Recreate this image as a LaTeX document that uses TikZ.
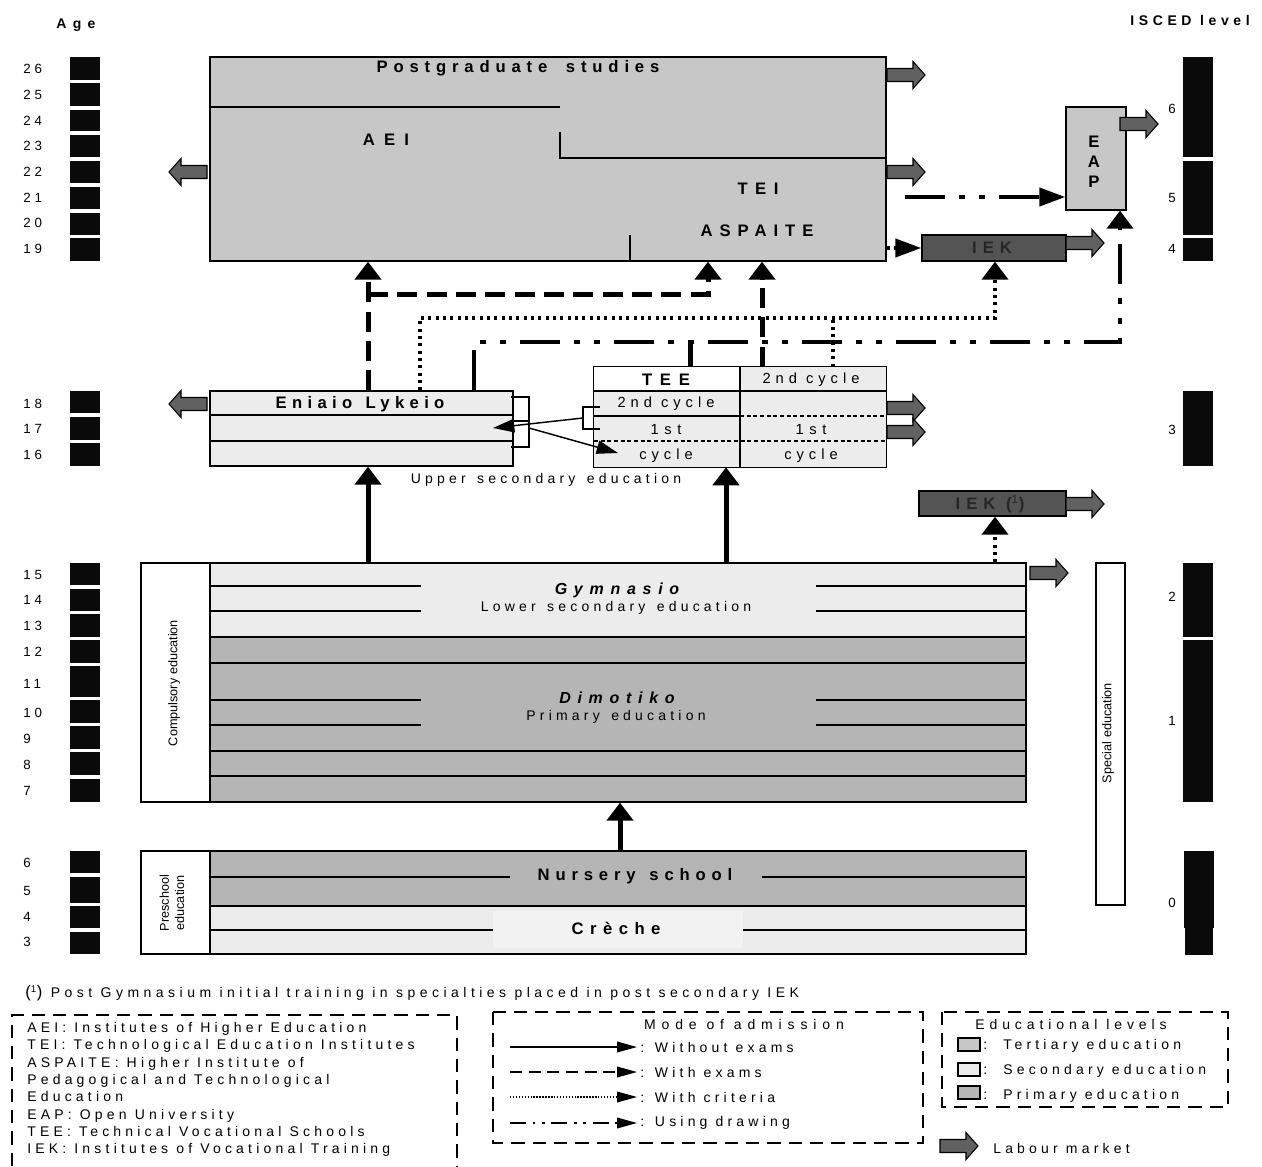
\documentclass[tikz,border=0pt]{standalone}
\usepackage{fontspec}
\setmainfont{Liberation Sans}
\usetikzlibrary{arrows.meta,fit}
\newcommand\lsp[1]{\addfontfeature{LetterSpace=#1}}
\newcommand\wsp{\ \hspace{2.5pt}}
\definecolor{terc}{gray}{0.78}
\definecolor{secc}{gray}{0.925}
\definecolor{pric}{gray}{0.71}
\definecolor{iekc}{gray}{0.33}
\definecolor{labc}{gray}{0.38}
\definecolor{barc}{gray}{0.04}
\begin{document}
\begin{tikzpicture}[x=0.75pt,y=-0.75pt,
 box/.style={draw, line width=1pt, inner sep=0pt},
 thinl/.style={line width=0.9pt},
 bigl/.style={inner sep=0pt, font=\fontsize{12.5}{15}\selectfont\bfseries\lsp{#1}},
 bigl/.default=30,
 midl/.style={inner sep=0pt, font=\fontsize{11}{13}\selectfont\lsp{#1}},
 midl/.default=34,
 smll/.style={inner sep=0pt, font=\fontsize{10.5}{13}\selectfont\lsp{#1}},
 smll/.default=30,
 numl/.style={inner sep=0pt, font=\fontsize{10}{12}\selectfont\lsp{#1}},
 numl/.default=30,
 rotl/.style={inner sep=0pt, font=\fontsize{9.5}{11.5}\selectfont, rotate=90, align=center},
 vhead/.style={-{Triangle[length=13.5pt,width=19.5pt]}},
 hhead/.style={-{Triangle[length=19.5pt,width=13.5pt]}},
 solidc/.style={line width=3.75pt},
 examsc/.style={line width=3.75pt, dash pattern=on 15pt off 7pt},
 critc/.style={line width=3pt, dash pattern=on 2.2pt off 3.3pt},
 drawc/.style={line width=3pt, dash pattern=on 30pt off 10.5pt on 4.5pt off 10.5pt on 4.5pt off 10.5pt},
 thinarr/.style={line width=1.1pt, -{Triangle[length=16pt,width=10pt]}},
 legarr/.style={line width=1.1pt, -{Triangle[length=15pt,width=8pt]}},
 legbox/.style={line width=1.5pt, dash pattern=on 10pt off 6pt},
 labour/.pic={\draw[fill=labc, line width=0.8pt] (0,-6.5) -- (26,-6.5) -- (26,-13.5) -- (38,0) -- (26,13.5) -- (26,6.5) -- (0,6.5) -- cycle;},
]
\useasboundingbox (0,0) rectangle (1262,1166);

% ---------- headers ----------
\node[inner sep=0pt, font=\fontsize{10.5}{12}\selectfont\bfseries\lsp{45}] (agehdr) at (76,25) {Age};
\node[inner sep=0pt, font=\fontsize{10.5}{12}\selectfont\bfseries\lsp{33}] (iscedhdr) at (1190,20) {ISCED level};

% ---------- age scale ----------
\foreach \n/\t/\b/\l in {26/57/80/69, 25/83/106/95, 24/110/131/121, 23/135/157/146,
  22/161/183/172, 21/187/209/198, 20/213/235/223, 19/238/261/249,
  18/391/413/404, 17/417/440/429, 16/443/466/455,
  15/563/585/575, 14/589/611/600, 13/614/637/626, 12/640/663/652, 11/666/697/684,
  10/700/723/713, 9/726/749/739, 8/752/775/765, 7/779/802/791,
  6/851/873/863, 5/877/903/891, 4/906/928/917, 3/932/954/942}
{\fill[barc] (70,\t) rectangle (100,\b);
 \node[numl, anchor=west] (age\n) at (23,\l) {\n};}

% ---------- ISCED scale ----------
\fill[barc] (1183,57) rectangle (1213,157);
\fill[barc] (1183,161) rectangle (1213,235);
\fill[barc] (1183,238) rectangle (1213,261);
\fill[barc] (1183,391) rectangle (1213,466);
\fill[barc] (1183,563) rectangle (1213,637);
\fill[barc] (1183,640) rectangle (1213,802);
\fill[barc] (1184,851) rectangle (1214,928);
\fill[barc] (1185,928) rectangle (1213,955);
\foreach \n/\l in {6/109,5/198,4/249,3/430,2/597,1/721,0/903}
 \node[numl=0] (isc\n) at (1172,\l) {\n};

% ---------- tertiary ----------
\node[box, fill=terc, fit={(210,57)(886,261)}] (tert) {};
\draw[thinl] (210,107) -- (560,107);
\draw[thinl] (560,132) -- (560,158) -- (886,158);
\draw[thinl] (630,235) -- (630,261);
\node[bigl=35] (pgt) at (518,68) {Postgraduate\hspace{14pt}studies};
\node[bigl=55] (aeit) at (386,140) {AEI};
\node[bigl=45] (teit) at (758,189) {TEI};
\node[bigl=42] (aspt) at (757,231) {ASPAITE};

\node[box, fill=terc, fit={(1066,107)(1126,210)}] (eap) {};
\node[inner sep=0pt, align=center, font=\fontsize{12.5}{15}\selectfont\bfseries] (eapt) at (1094,162) {E\\A\\P};

\node[box, fill=iekc, fit={(922,235)(1066,261)}] (iek) {};
\node[bigl=36, text=black!85] (iekt) at (992,248) {IEK};

% ---------- upper secondary ----------
\node[box, fill=secc, fit={(210,391)(513,466)}] (lyk) {};
\draw[thinl] (210,415) -- (513,415);
\draw[thinl] (210,441) -- (513,441);
\node[bigl=32] (lykt) at (360,404) {Eniaio\wsp Lykeio};
\draw[line width=0.8pt] (511,397) -| (529,447) -- (511,447);
\draw[line width=0.8pt] (513,421) -- (529,421);

\node[inner sep=0pt, fill=secc, fit={(594,367)(886,467)}] (tee) {};
\fill[white] (594,367) rectangle (740,391);
\draw[thinl] (594,391) -- (886,391);
\draw[thinl] (740,367) -- (740,467);
\draw[thinl] (594,416) -- (740,416);
\draw[line width=0.8pt, dash pattern=on 3pt off 2pt] (740,416) -- (886,416);
\draw[line width=0.8pt, dash pattern=on 3pt off 2pt] (594,441) -- (886,441);
\draw[line width=1pt] (tee.north west) rectangle (tee.south east);
\node[bigl=46] (teet) at (666,380) {TEE};
\node[midl] (c2r) at (811,380) {2nd cycle};
\node[midl] (c2l) at (666,404) {2nd cycle};
\node[midl=38] (s1l) at (666,430) {1st};
\node[midl=38] (s1r) at (811,430) {1st};
\node[midl] (cyl) at (666,456) {cycle};
\node[midl] (cyr) at (811,456) {cycle};
\draw[line width=0.8pt] (600,407) -- (583,407) -- (583,429) -- (600,429);
\node[smll] (uset) at (546,480) {Upper\wsp secondary\wsp education};

\node[box, fill=iekc, fit={(919,491)(1066,516)}] (iek1) {};
\node[bigl=36, text=black!85] (iek1t) at (990,504) {IEK (\textsuperscript{\mdseries 1})};

% ---------- compulsory ----------
\node[box, fill=white, fit={(141,563)(1026,802)}] (comp) {};
\node[box, fill=secc, fit={(210,563)(1026,637)}] (gym) {};
\node[box, fill=pric, fit={(210,637)(1026,802)}] (dim) {};
\foreach \y in {586,611,700,725}
 {\draw[thinl] (210,\y) -- (421,\y); \draw[thinl] (816,\y) -- (1026,\y);}
\foreach \y in {663,751,776}
 \draw[thinl] (210,\y) -- (1026,\y);
\draw[line width=1pt] (comp.north west) rectangle (comp.south east);
\node[rotl] (compt) at (174,683) {Compulsory education};
\node[inner sep=0pt, font=\fontsize{12}{14}\selectfont\bfseries\itshape\lsp{42}] (gymt) at (617,590) {Gymnasio};
\node[smll] (gyms) at (616,608) {Lower\wsp secondary\wsp education};
\node[inner sep=0pt, font=\fontsize{12}{14}\selectfont\bfseries\itshape\lsp{42}] (dimt) at (617,698) {Dimotiko};
\node[smll] (dims) at (616,717) {Primary\wsp education};

\node[box, fill=white, line width=1.2pt, fit={(1096,563)(1125,905)}] (spec) {};
\node[rotl] (spect) at (1108,733) {Special education};

% ---------- preschool ----------
\node[box, fill=white, fit={(141,851)(1026,954)}] (pre) {};
\node[box, fill=pric, fit={(210,851)(1026,906)}] (nur) {};
\node[box, fill=secc, fit={(210,906)(1026,954)}] (cre) {};
\draw[thinl] (210,877) -- (510,877); \draw[thinl] (762,877) -- (1026,877);
\draw[thinl] (210,930) -- (493,930); \draw[thinl] (743,930) -- (1026,930);
\fill[gray!10] (493,911) rectangle (743,948);
\draw[line width=1pt] (pre.north west) rectangle (pre.south east);
\node[rotl] (pret) at (172,903) {Preschool\\education};
\node[bigl=35] (nurt) at (635,876) {Nursery\wsp school};
\node[bigl=39] (cret) at (616,928) {Crèche};

% ---------- labour market arrows ----------
\path (887,75) pic {labour};
\path (887,172) pic {labour};
\path (207,172) pic[rotate=180] {labour};
\path (207,404) pic[rotate=180] {labour};
\path (1120,124) pic {labour};
\path (1066,243) pic {labour};
\path (887,408) pic {labour};
\path (887,432) pic {labour};
\path (1066,504) pic {labour};
\path (1030,573) pic {labour};

% ---------- admission connectors ----------
% without exams
\draw[solidc, vhead] (368,0 |- gym.north) -- (368,0 |- lyk.south);
\draw[solidc, vhead] (726,0 |- gym.north) -- (726,0 |- tee.south);
\draw[solidc, vhead] (620,0 |- nur.north) -- (620,0 |- dim.south);
\draw[thinarr] (583,418) -- (493,428);
\draw[thinarr] (529,428) -- (618,453);
% with exams
\coordinate (ex1) at (368,294);
\draw[examsc, vhead] (368,0 |- lyk.north) -- (368,0 |- tert.south);
\draw[examsc, vhead] (ex1) -- (708,294) -- (708,0 |- tert.south);
\draw[examsc, vhead] (762,0 |- tee.north) -- (762,0 |- tert.south);
% with criteria
\coordinate (cr1) at (833,318);
\draw[critc, vhead] (420,0 |- lyk.north) -- (420,318) -- (995,318) -- (995,0 |- iek.south);
\draw[critc] (833,0 |- tee.north) -- (cr1);
\draw[critc, vhead] (995,0 |- gym.north) -- (995,0 |- iek1.south);
\draw[critc, hhead] (tert.east |- iek.west) -- (iek.west);
% using drawing
\coordinate (dr1) at (690,342);
\coordinate (dr0) at (905,197);
\draw[drawc, vhead] (474,0 |- lyk.north) -- (474,342) -- (1120,342) -- (1120,0 |- eap.south);
\draw[solidc] (690,0 |- tee.north) -- (dr1);
\draw[drawc, hhead] (dr0) -- (dr0 -| eap.west);

% ---------- footnote ----------
\node[smll=32, anchor=west] (foot) at (25,993) {{\fontsize{12.5}{14}\selectfont(}\textsuperscript{1}{\fontsize{12.5}{14}\selectfont)} Post Gymnasium initial training in specialties placed in post secondary IEK};

% ---------- legend: abbreviations ----------
\draw[legbox] (12,1166) -- (12,1015) -- (457,1015) -- (457,1166);
\node[inner sep=0pt, anchor=north west, align=left, font=\fontsize{10.5}{13}\selectfont\lsp{30}] (abbr) at (27,1022)
 {AEI: Institutes of Higher Education\\
  TEI: Technological Education Institutes\\
  ASPAITE: Higher Institute of\\
  Pedagogical and Technological\\
  Education\\
  EAP: Open University\\
  TEE: Technical Vocational Schools\\
  IEK: Institutes of Vocational Training};

% ---------- legend: mode of admission ----------
\draw[legbox] (493,1012) rectangle (923,1143);
\node[smll=42] (modet) at (744,1024) {Mode of admission};
\coordinate (m1a) at (510,1047); \coordinate (m1b) at (637,1047);
\coordinate (m2a) at (510,1072); \coordinate (m2b) at (637,1072);
\coordinate (m3a) at (510,1097); \coordinate (m3b) at (637,1097);
\coordinate (m4a) at (510,1123); \coordinate (m4b) at (637,1123);
\draw[legarr] (m1a) -- (m1b);
\draw[legarr, dash pattern=on 9pt off 5pt] (m2a) -- (m2b);
\draw[legarr, dash pattern=on 1.1pt off 1.1pt] (m3a) -- (m3b);
\draw[legarr, dash pattern=on 12pt off 5pt on 2pt off 5pt on 2pt off 5pt] (m4a) -- (m4b);
\node[smll, anchor=west] (m1t) at (640,1047) {: Without exams};
\node[smll, anchor=west] (m2t) at (640,1072) {: With exams};
\node[smll, anchor=west] (m3t) at (640,1097) {: With criteria};
\node[smll, anchor=west] (m4t) at (640,1123) {: Using drawing};

% ---------- legend: educational levels ----------
\draw[legbox] (942,1012) rectangle (1228,1107);
\node[smll=35] (levt) at (1071,1024) {Educational levels};
\draw[line width=0.8pt, fill=terc] (958,1038) rectangle (980,1051);
\draw[line width=0.8pt, fill=secc] (958,1063) rectangle (980,1076);
\draw[line width=0.8pt, fill=pric] (958,1086) rectangle (980,1099);
\node[smll, anchor=west] (l1t) at (983,1046) {:\ \ Tertiary education};
\node[smll, anchor=west] (l2t) at (983,1071) {:\ \ Secondary education};
\node[smll, anchor=west] (l3t) at (983,1096) {:\ \ Primary education};

\path (940,1146) pic {labour};
\node[smll, anchor=west] (labt) at (993,1148) {Labour market};
\end{tikzpicture}
\end{document}
